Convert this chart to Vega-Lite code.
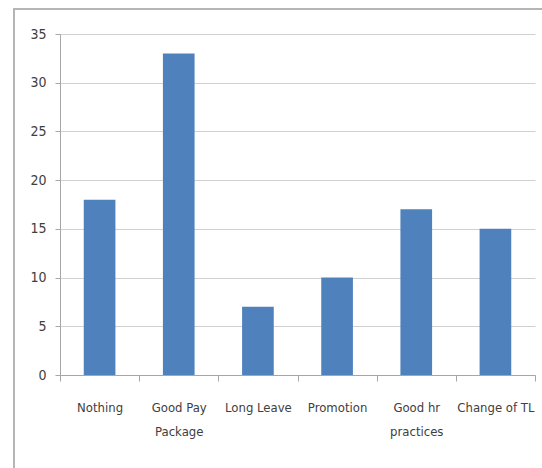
{
  "$schema": "https://vega.github.io/schema/vega-lite/v6.json",
  "width": 540,
  "height": 475,
  "autosize": "none",
  "padding": {"left": 14, "top": 9, "right": 0, "bottom": 0},
  "background": "white",
  "config": {
    "view": {"stroke": "#b5b5b5", "strokeWidth": 2},
    "font": "'Liberation Sans Narrow', 'DejaVu Sans Condensed', 'Liberation Sans', sans-serif"
  },
  "data": {
    "values": [
      {"factor": "Nothing", "count": 18},
      {"factor": "Good Pay Package", "count": 33},
      {"factor": "Long Leave", "count": 7},
      {"factor": "Promotion", "count": 10},
      {"factor": "Good hr practices", "count": 17},
      {"factor": "Change of TL", "count": 15}
    ]
  },
  "mark": {"type": "bar", "color": "#4f81bd", "width": {"band": 0.4}},
  "encoding": {
    "x": {
      "field": "factor",
      "type": "nominal",
      "sort": null,
      "scale": {"range": [46, 521], "paddingInner": 0, "paddingOuter": 0},
      "axis": {
        "title": null,
        "orient": "bottom",
        "offset": -109,
        "grid": false,
        "tickBand": "extent",
        "domainColor": "#a6a6a6",
        "tickColor": "#a6a6a6",
        "tickSize": 6,
        "labelAngle": 0,
        "labelFontSize": 13,
        "labelColor": "#404040",
        "labelPadding": 20,
        "labelLineHeight": 24,
        "labelExpr": "datum.label == 'Good Pay Package' ? ['Good Pay', 'Package'] : datum.label == 'Good hr practices' ? ['Good hr', 'practices'] : datum.label"
      }
    },
    "y": {
      "field": "count",
      "type": "quantitative",
      "scale": {"domain": [0, 35], "range": [366, 25], "nice": false},
      "axis": {
        "title": null,
        "orient": "left",
        "offset": -46,
        "values": [0, 5, 10, 15, 20, 25, 30, 35],
        "grid": true,
        "gridColor": "#d0d0d0",
        "domainColor": "#a6a6a6",
        "tickColor": "#a6a6a6",
        "tickSize": 5,
        "labelPadding": 9,
        "labelFontSize": 14,
        "labelColor": "#404040"
      }
    }
  }
}
